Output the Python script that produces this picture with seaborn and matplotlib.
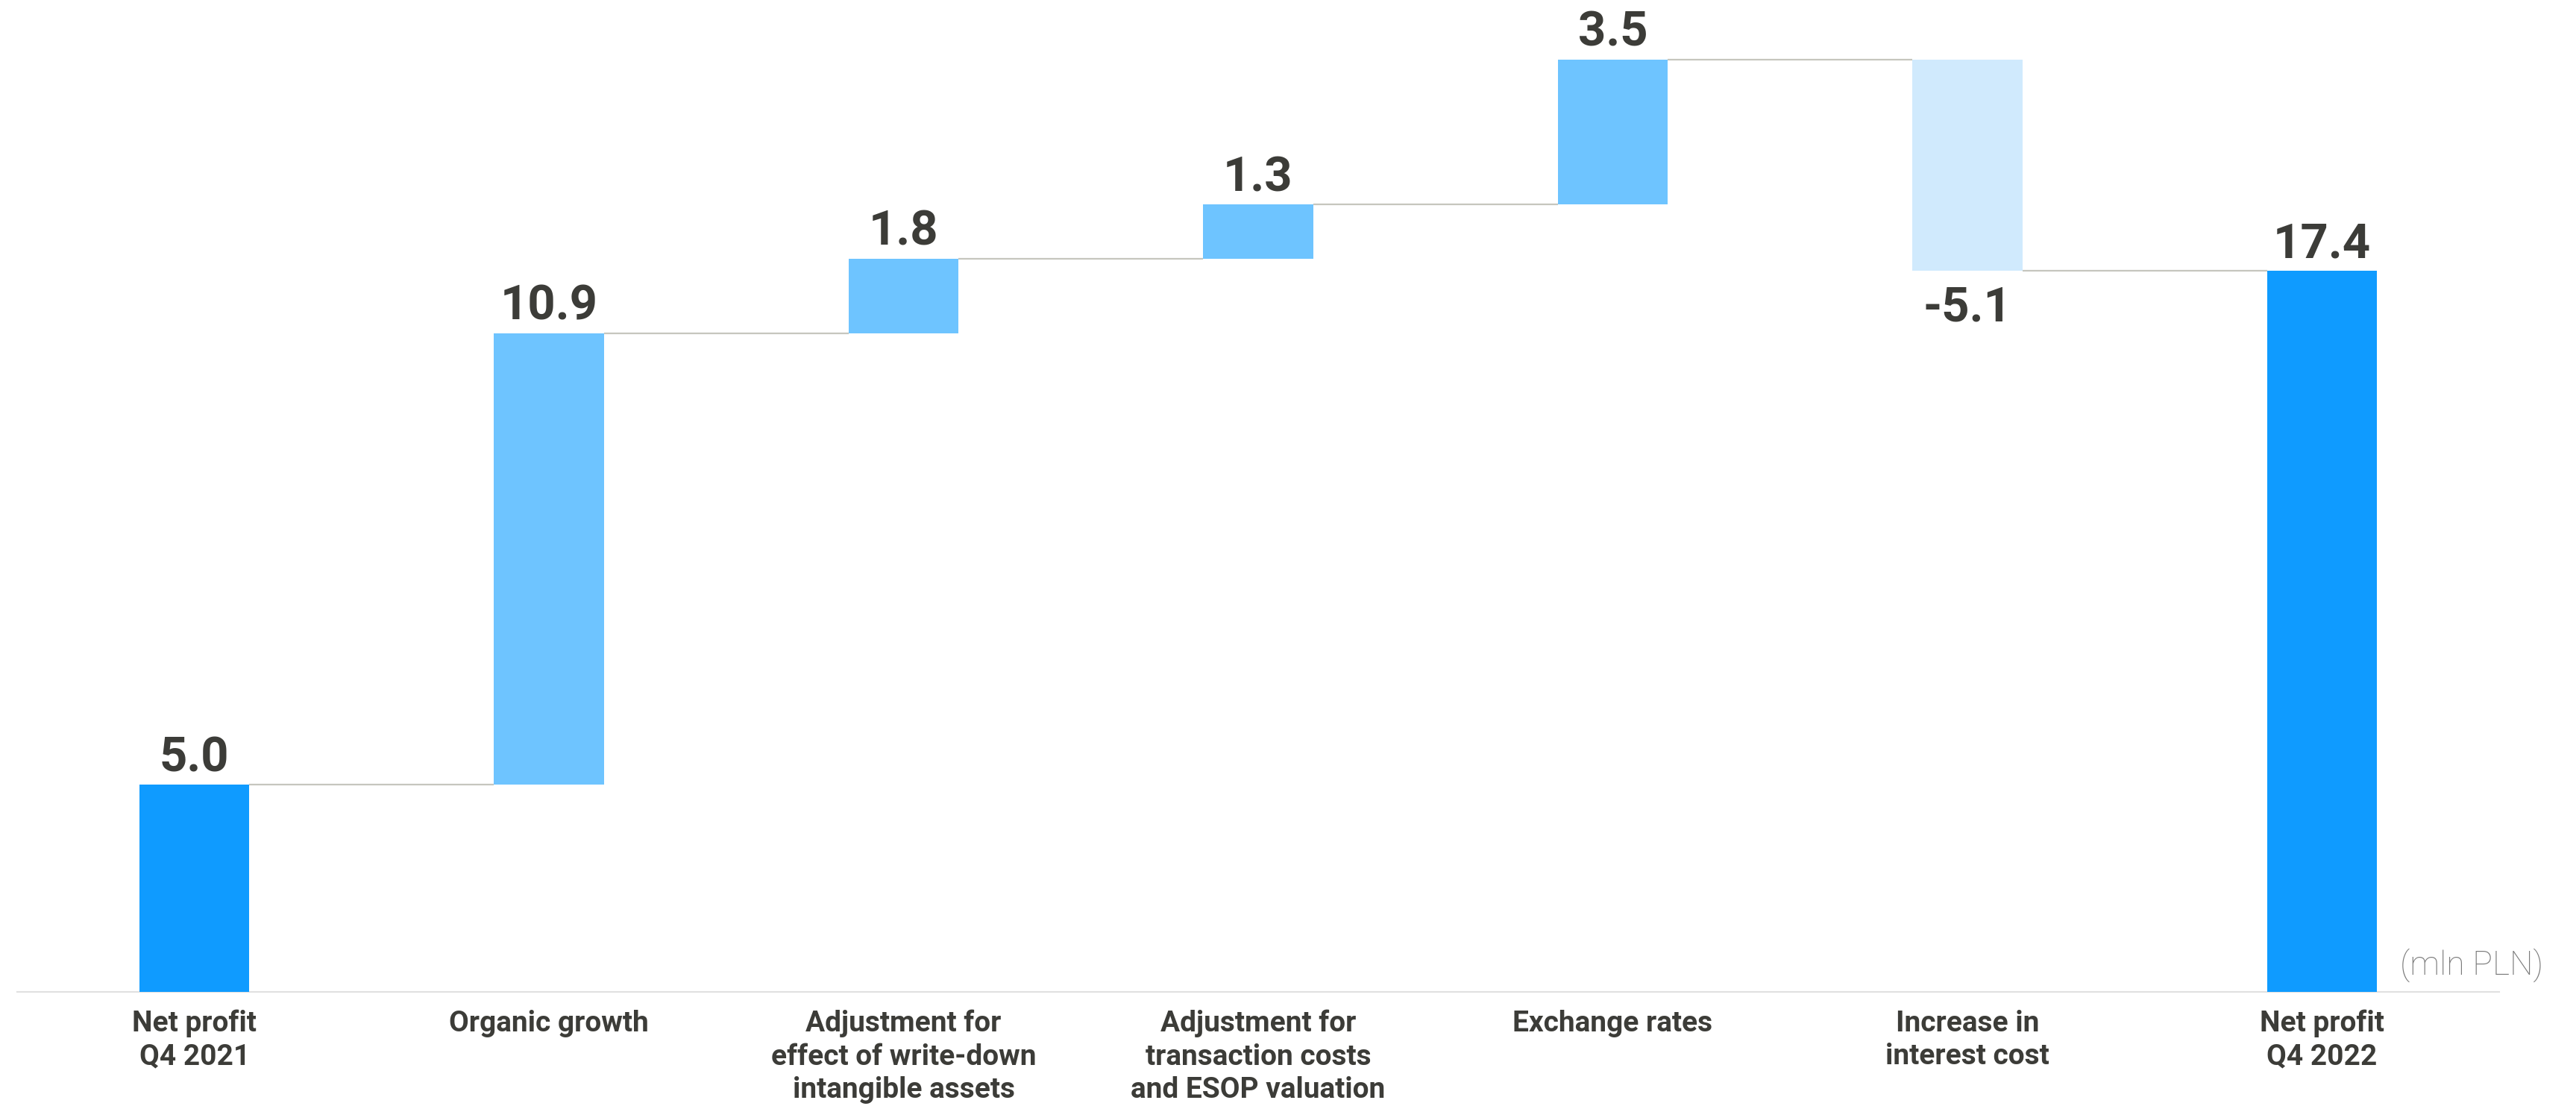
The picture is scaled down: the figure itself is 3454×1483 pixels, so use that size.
import matplotlib
matplotlib.use("Agg")
import matplotlib.pyplot as plt
import numpy as np
import pandas as pd
import seaborn as sns

# Waterfall: net profit bridge Q4 2021 -> Q4 2022
categories = [
    "Net profit\nQ4 2021",
    "Organic growth",
    "Adjustment for\neffect of write-down\nintangible assets",
    "Adjustment for\ntransaction costs\nand ESOP valuation",
    "Exchange rates",
    "Increase in\ninterest cost",
    "Net profit\nQ4 2022",
]
changes = [5.0, 10.9, 1.8, 1.3, 3.5, -5.1, 17.4]
is_total = [True, False, False, False, False, False, True]
unit_label = "(mln PLN)"

COLOR_TOTAL = "#0F9BFF"
COLOR_UP = "#6EC4FF"
COLOR_DOWN = "#D0EAFD"
TEXT_DARK = "#3C3C38"
CONNECTOR = "#C6C6BE"
AXIS_GREY = "#E0E0E0"
BAR_WIDTH = 0.31

sns.set_theme(style="white")
plt.rcParams["font.family"] = ["Roboto", "DejaVu Sans"]

# Running totals give each bar its base
bottoms = []
level = 0.0
for v, tot in zip(changes, is_total):
    if tot:
        bottoms.append(0.0)
        level = v
    else:
        bottoms.append(level)
        level += v
ends = [b + v for b, v in zip(bottoms, changes)]
colors = [COLOR_TOTAL if t else (COLOR_UP if v >= 0 else COLOR_DOWN)
          for v, t in zip(changes, is_total)]

df = pd.DataFrame({"category": categories, "change": changes})

fig = plt.figure(figsize=(34.55, 14.83), dpi=100)
ax = fig.add_axes([0.00663, 0.1030, 0.96326, 0.8970])

sns.barplot(data=df, x="category", y="change", order=categories,
            bottom=bottoms, width=BAR_WIDTH, color=COLOR_UP,
            errorbar=None, linewidth=0, ax=ax, zorder=3)
for patch, c in zip(ax.patches, colors):
    patch.set_facecolor(c)
    patch.set_edgecolor(c)

n = len(categories)
# Connector lines between consecutive bars at the running level
for i in range(n - 1):
    lvl = ends[i]
    ax.plot([i + BAR_WIDTH / 2, i + 1 - BAR_WIDTH / 2], [lvl, lvl],
            color=CONNECTOR, lw=1.6, zorder=2, solid_capstyle="butt")

# Value labels: above rising/total bars, below falling bars
for i, v in enumerate(changes):
    offset = 13 if v >= 0 else -48
    ax.annotate(f"{v:.1f}", (i, ends[i]), xytext=(0, offset),
                textcoords="offset points", ha="center", va="baseline",
                fontsize=47, fontweight="bold", color=TEXT_DARK)

ax.set_xlim(-0.5, n - 0.5)
ax.set_ylim(0, 23.94)
ax.set_xlabel("")
ax.set_ylabel("")
ax.set_yticks([])

ax.set_xticks(range(n))
ax.set_xticklabels(categories, fontsize=28, fontweight="semibold",
                   color=TEXT_DARK, linespacing=1.25)
ax.tick_params(axis="x", which="major", length=0, pad=17)
ax.set_xticks(np.arange(-0.5, n, 1.0), minor=True)
ax.tick_params(axis="x", which="minor", direction="in", length=10,
               width=1.5, color=AXIS_GREY)

for side in ("top", "right", "left"):
    ax.spines[side].set_visible(False)
ax.spines["bottom"].set_color(AXIS_GREY)
ax.spines["bottom"].set_linewidth(1.5)
ax.spines["bottom"].set_zorder(1)

fig.text(3218 / 3455, 1 - 1294 / 1483, unit_label, ha="left", va="center",
         fontsize=32, fontweight="light", color="#7A7A7A")

fig.savefig("out.png", dpi=100)
